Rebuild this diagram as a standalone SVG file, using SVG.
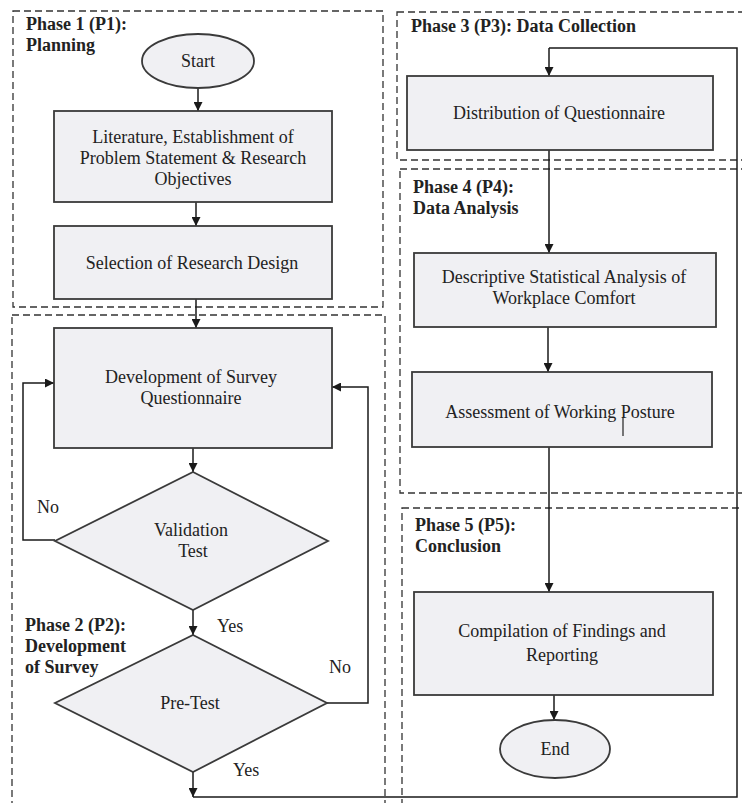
<svg xmlns="http://www.w3.org/2000/svg" width="742" height="803" viewBox="0 0 742 803">
<defs>
<marker id="ah" viewBox="0 0 10 10" refX="10" refY="5" markerWidth="9" markerHeight="9" markerUnits="userSpaceOnUse" orient="auto">
<path d="M0,0 L10,5 L0,10 Z" fill="#1a1a1a"/>
</marker>
<style>
.phase{fill:none;stroke:#333;stroke-width:1.3;stroke-dasharray:7,4}
.box{fill:#f0f0f3;stroke:#3a3a3a;stroke-width:1.8}
.t{font-family:"Liberation Serif","Times New Roman",serif;font-size:18px;fill:#222;text-anchor:middle}
.pl{font-family:"Liberation Serif","Times New Roman",serif;font-size:18px;font-weight:bold;fill:#222}
.lbl{font-family:"Liberation Serif","Times New Roman",serif;font-size:18px;fill:#222}
.c{fill:none;stroke:#1a1a1a;stroke-width:1.5}
.ca{fill:none;stroke:#1a1a1a;stroke-width:1.5;marker-end:url(#ah)}
</style>
</defs>
<rect width="742" height="803" fill="#ffffff"/>
<g id="phases">
<rect id="phase1" class="phase" x="13" y="11" width="370" height="296"/>
<rect id="phase2" class="phase" x="12" y="315" width="373" height="495"/>
<rect id="phase3" class="phase" x="397" y="12" width="360" height="148"/>
<rect id="phase4" class="phase" x="400" y="169" width="357" height="324"/>
<rect id="phase5" class="phase" x="402" y="508" width="355" height="300"/>
<text class="pl" x="26" y="30">Phase 1 (P1):</text>
<text class="pl" x="26" y="51">Planning</text>
<text class="pl" x="25" y="631">Phase 2 (P2):</text>
<text class="pl" x="25" y="652">Development</text>
<text class="pl" x="25" y="673">of Survey</text>
<text class="pl" x="411" y="32">Phase 3 (P3): Data Collection</text>
<text class="pl" x="413" y="193">Phase 4 (P4):</text>
<text class="pl" x="413" y="214">Data Analysis</text>
<text class="pl" x="415" y="531">Phase 5 (P5):</text>
<text class="pl" x="415" y="552">Conclusion</text>
</g>
<g id="connectors">
<line class="ca" x1="198" y1="88" x2="198" y2="111"/>
<line class="ca" x1="196" y1="202" x2="196" y2="226"/>
<line class="ca" x1="196" y1="299" x2="196" y2="328"/>
<line class="ca" x1="193" y1="448" x2="193" y2="472"/>
<polyline class="ca" points="55,540 23,540 23,383 54,383"/>
<line class="ca" x1="193" y1="610" x2="193" y2="635"/>
<polyline class="ca" points="327,703 368,703 368,387 332,387"/>
<line class="ca" x1="193" y1="772" x2="193" y2="797"/>
<polyline class="c" points="193,797 737,797 737,48 549,48"/>
<line class="ca" x1="549" y1="48" x2="549" y2="76"/>
<line class="ca" x1="549" y1="150" x2="549" y2="253"/>
<line class="ca" x1="548" y1="327" x2="548" y2="372"/>
<line class="ca" x1="549" y1="447" x2="549" y2="592"/>
<line class="ca" x1="554" y1="695" x2="554" y2="720"/>
<text class="lbl" x="37" y="513">No</text>
<text class="lbl" x="217" y="632">Yes</text>
<text class="lbl" x="329" y="673">No</text>
<text class="lbl" x="233" y="776">Yes</text>
</g>
<g id="start">
<ellipse class="box" cx="198" cy="61" rx="56" ry="27"/>
<text class="t" x="198" y="67">Start</text>
</g>
<g id="literature">
<rect class="box" x="54" y="111" width="278" height="91"/>
<text class="t" x="193" y="143">Literature, Establishment of</text>
<text class="t" x="193" y="164">Problem Statement &amp; Research</text>
<text class="t" x="193" y="185">Objectives</text>
</g>
<g id="selection">
<rect class="box" x="54" y="226" width="278" height="73"/>
<text class="t" x="192" y="269">Selection of Research Design</text>
</g>
<g id="development">
<rect class="box" x="54" y="328" width="278" height="120"/>
<text class="t" x="191" y="383">Development of Survey</text>
<text class="t" x="191" y="404">Questionnaire</text>
</g>
<g id="validation">
<polygon class="box" points="193,472 328,541 193,610 55,541"/>
<text class="t" x="191" y="536">Validation</text>
<text class="t" x="193" y="557">Test</text>
</g>
<g id="pretest">
<polygon class="box" points="193,635 327,703 193,772 55,703"/>
<text class="t" x="190" y="709">Pre-Test</text>
</g>
<g id="distribution">
<rect class="box" x="407" y="76" width="306" height="74"/>
<text class="t" x="559" y="119">Distribution of Questionnaire</text>
</g>
<g id="descriptive">
<rect class="box" x="414" y="253" width="302" height="74"/>
<text class="t" x="564" y="283">Descriptive Statistical Analysis of</text>
<text class="t" x="564" y="304">Workplace Comfort</text>
</g>
<g id="assessment">
<rect class="box" x="412" y="372" width="300" height="75"/>
<text class="t" x="560" y="418">Assessment of Working Posture</text>
<line x1="623" y1="417" x2="623" y2="436" stroke="#222" stroke-width="1.2"/>
</g>
<g id="compilation">
<rect class="box" x="414" y="592" width="299" height="103"/>
<text class="t" x="562" y="637">Compilation of Findings and</text>
<text class="t" x="562" y="661">Reporting</text>
</g>
<g id="end">
<ellipse class="box" cx="555" cy="749" rx="55" ry="29"/>
<text class="t" x="555" y="755">End</text>
</g>
</svg>
